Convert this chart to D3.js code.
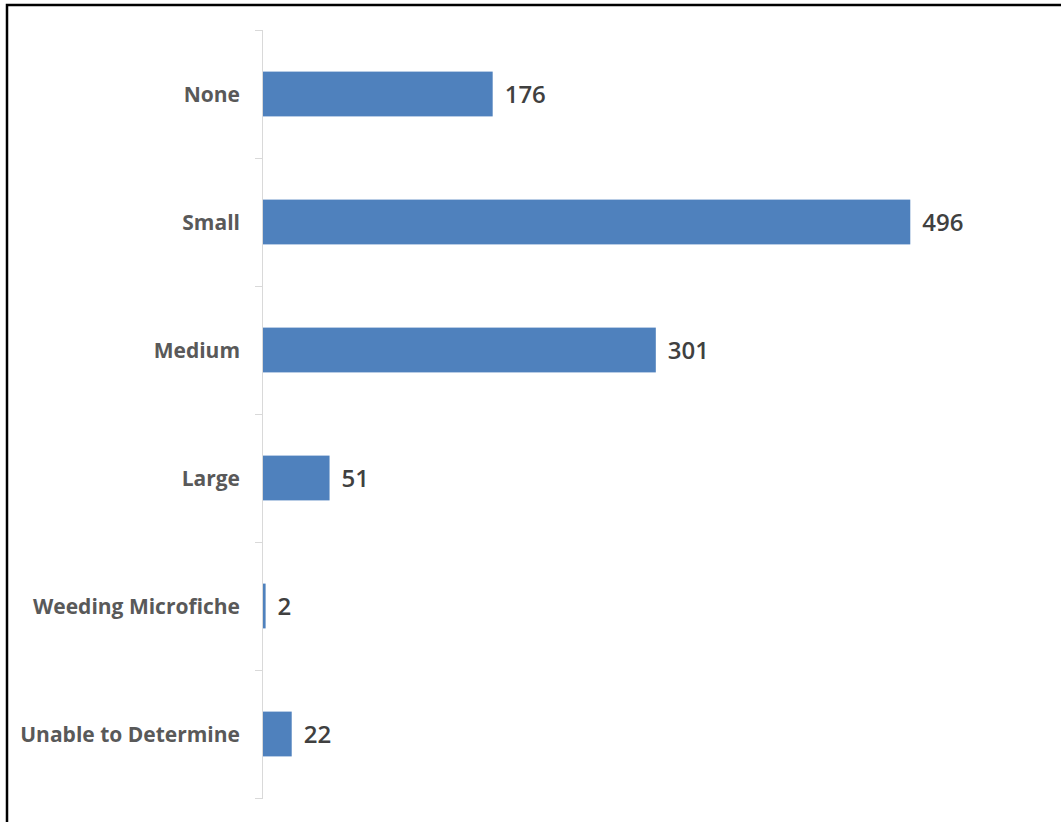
<!DOCTYPE html>
<html>
<head>
<meta charset="utf-8">
<script src="https://cdn.jsdelivr.net/npm/d3@7"></script>
<style>
  html, body { margin: 0; padding: 0; background: #fff; }
  svg { display: block; }
</style>
</head>
<body>
<svg id="chart" width="1061" height="822"></svg>
<script>
// Categories and counts, top to bottom
const categories = ["None", "Small", "Medium", "Large", "Weeding Microfiche", "Unable to Determine"];
const counts = [176, 496, 301, 51, 2, 22];
const xMax = 600;

const W = 1061, H = 822;
const plot = { left: 263, right: 1046, top: 30, bottom: 798 };

const svg = d3.select("#chart");

// Frame around the chart (left and top edges)
svg.append("path")
  .attr("d", `M7,${H} L7,5 L${W},5`)
  .attr("fill", "none")
  .attr("stroke", "#000")
  .attr("stroke-width", 2.5);

const x = d3.scaleLinear().domain([0, xMax]).range([plot.left, plot.right]);
const y = d3.scaleBand()
  .domain(categories)
  .range([plot.top, plot.bottom])
  .paddingInner(0.65)
  .paddingOuter(0.325);

// Category axis: light gray line with tick marks between categories
const axis = svg.append("g").attr("class", "y-axis");
axis.append("line")
  .attr("x1", plot.left - 0.5).attr("x2", plot.left - 0.5)
  .attr("y1", plot.top).attr("y2", plot.bottom)
  .attr("stroke", "#d9d9d9").attr("stroke-width", 1);

const step = y.step();
const boundaries = d3.range(categories.length + 1).map(i => plot.top + i * step);
axis.selectAll("line.tick")
  .data(boundaries)
  .join("line")
  .attr("class", "tick")
  .attr("x1", plot.left - 8).attr("x2", plot.left)
  .attr("y1", d => Math.round(d) + 0.5).attr("y2", d => Math.round(d) + 0.5)
  .attr("stroke", "#d9d9d9").attr("stroke-width", 1);

axis.selectAll("text")
  .data(categories)
  .join("text")
  .attr("x", plot.left - 23)
  .attr("y", d => y(d) + y.bandwidth() / 2)
  .attr("dy", "0.36em")
  .attr("text-anchor", "end")
  .attr("font-family", "'Open Sans', sans-serif")
  .attr("font-weight", "bold")
  .attr("font-size", "21px")
  .attr("fill", "#595959")
  .text(d => d);

// Bars
const data = categories.map((c, i) => ({ category: c, value: counts[i] }));

svg.append("g")
  .selectAll("rect")
  .data(data)
  .join("rect")
  .attr("x", x(0))
  .attr("y", d => y(d.category))
  .attr("width", d => x(d.value) - x(0))
  .attr("height", y.bandwidth())
  .attr("fill", "#4f81bd");

// Value labels at bar ends
svg.append("g")
  .selectAll("text")
  .data(data)
  .join("text")
  .attr("x", d => x(d.value) + 12)
  .attr("y", d => y(d.category) + y.bandwidth() / 2)
  .attr("dy", "0.37em")
  .attr("font-family", "'Open Sans', sans-serif")
  .attr("font-weight", 600)
  .attr("font-size", "24px")
  .attr("fill", "#404040")
  .text(d => d.value);
</script>
</body>
</html>
